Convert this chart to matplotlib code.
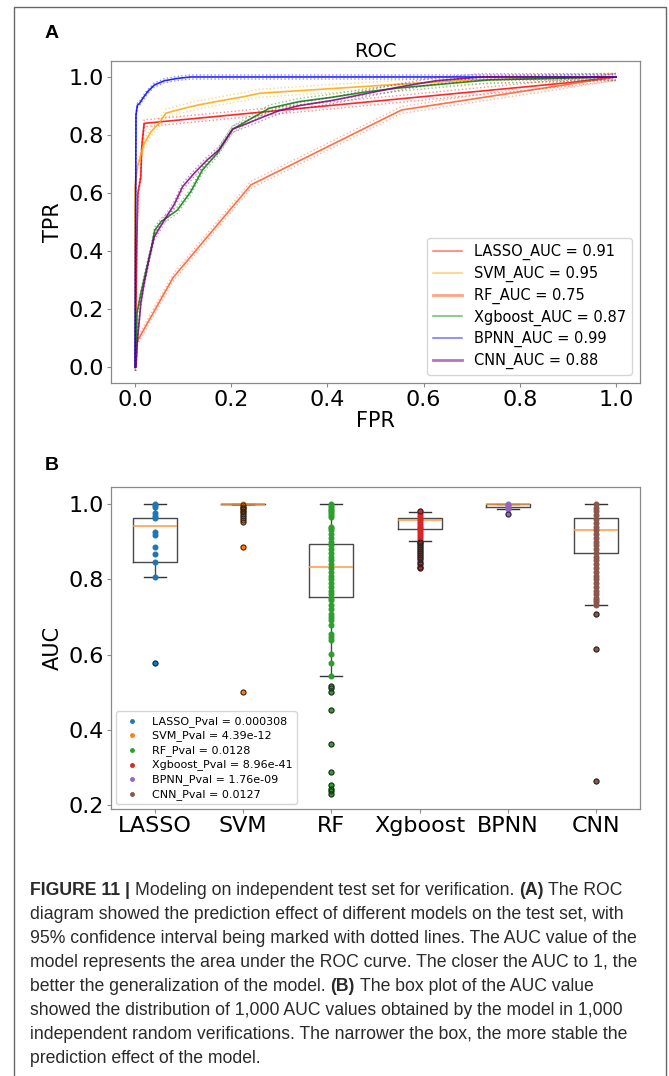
"""ROC curves and bootstrap AUC box plot on the independent test set."""

import matplotlib
matplotlib.use('Agg')
import numpy as _np
import matplotlib.pyplot as _plt
from matplotlib.lines import Line2D as _Line2D
from matplotlib.patches import Rectangle as _Rectangle

_W, _H = 669, 1076  # [px]

# ---- panel A: ROC curves (fpr, tpr) ----
models = ['LASSO', 'SVM', 'RF', 'Xgboost', 'BPNN', 'CNN']
roc_colors = ['red', 'orange', '#ff5722', 'green', 'blue', 'purple']
auc_values = [0.91, 0.95, 0.75, 0.87, 0.99, 0.88]

lasso_fpr = [0.0, 0.004, 0.006, 0.012, 0.014, 0.019, 0.9, 1.0]
lasso_tpr = [0.0, 0.45, 0.6, 0.656, 0.76, 0.84, 0.98, 1.0]

svm_fpr = [0.0, 0.0, 0.005, 0.019, 0.033, 0.05, 0.064, 0.088, 0.13,
           0.178, 0.226, 0.26, 0.41, 0.55, 0.7, 1.0]
svm_tpr = [0.0, 0.62, 0.69, 0.771, 0.811, 0.84, 0.875, 0.886, 0.903,
           0.918, 0.932, 0.944, 0.96, 0.975, 0.99, 1.0]

rf_fpr = [0.0, 0.005, 0.079, 0.241, 0.554, 1.0]
rf_tpr = [0.075, 0.09, 0.308, 0.628, 0.886, 1.0]

xgb_fpr = [0.0, 0.002, 0.004, 0.012, 0.023, 0.033, 0.041, 0.054, 0.088,
           0.116, 0.14, 0.171, 0.203, 0.245, 0.279, 0.341, 0.41, 0.479,
           0.548, 0.738, 1.0]
xgb_tpr = [0.0, 0.0, 0.185, 0.254, 0.334, 0.403, 0.472, 0.501, 0.541,
           0.605, 0.679, 0.737, 0.82, 0.86, 0.892, 0.915, 0.93, 0.948,
           0.962, 0.99, 1.0]

bpnn_fpr = [0.0, 0.002, 0.005, 0.009, 0.016, 0.026, 0.04, 0.061, 0.088,
            0.116, 1.0]
bpnn_tpr = [0.0, 0.87, 0.903, 0.908, 0.926, 0.949, 0.972, 0.987, 0.995,
            1.0, 1.0]

cnn_fpr = [0.0, 0.002, 0.005, 0.012, 0.019, 0.03, 0.04, 0.061, 0.081,
           0.099, 0.123, 0.15, 0.174, 0.203, 0.238, 0.272, 0.3, 0.341,
           0.41, 0.479, 0.548, 0.626, 0.72, 1.0]
cnn_tpr = [0.0, 0.0, 0.093, 0.22, 0.289, 0.38, 0.449, 0.507, 0.559,
           0.622, 0.668, 0.714, 0.748, 0.82, 0.843, 0.866, 0.884, 0.901,
           0.919, 0.942, 0.965, 0.987, 1.0, 1.0]

# half width of the 95% CI band (dotted lines) per model, in TPR units
ci_halfwidth = [0.012, 0.014, 0.012, 0.011, 0.007, 0.011]

# ---- panel B: AUC over 1,000 random verifications ----
box_labels = ['LASSO', 'SVM', 'RF', 'Xgboost', 'BPNN', 'CNN']
pval_labels = ['LASSO_Pval = 0.000308', 'SVM_Pval = 4.39e-12',
               'RF_Pval = 0.0128', 'Xgboost_Pval = 8.96e-41',
               'BPNN_Pval = 1.76e-09', 'CNN_Pval = 0.0127']
box_med = [0.942, 1.0, 0.832, 0.957, 1.0, 0.930]
box_q1 = [0.847, 1.0, 0.753, 0.934, 0.991, 0.869]
box_q3 = [0.962, 1.0, 0.893, 0.962, 1.0, 0.964]
box_whislo = [0.807, 1.0, 0.543, 0.901, 0.986, 0.731]
box_whishi = [1.0, 1.0, 1.0, 0.978, 1.0, 1.0]

lasso_auc = [1.0, 0.997, 0.993, 0.975, 0.968, 0.962, 0.926, 0.918, 0.887,
             0.867, 0.847, 0.807, 0.578]
svm_auc = [1.0, 0.997, 0.993, 0.99, 0.986, 0.982, 0.978, 0.973, 0.968,
           0.962, 0.957, 0.953, 0.885, 0.5]
rf_auc = [1.0, 0.995, 0.99, 0.985, 0.98, 0.975, 0.97, 0.966,
          0.94, 0.935, 0.93, 0.92, 0.91, 0.90, 0.89, 0.88, 0.87, 0.86,
          0.85, 0.84, 0.83, 0.82, 0.81, 0.80, 0.79, 0.78, 0.77, 0.76,
          0.75, 0.745, 0.731, 0.722, 0.709, 0.70, 0.691, 0.678, 0.656,
          0.647, 0.638, 0.601, 0.578, 0.543, 0.516, 0.51, 0.501, 0.454,
          0.362, 0.288, 0.255, 0.244, 0.238, 0.231]
xgb_auc = [0.98, 0.975, 0.97, 0.965, 0.96, 0.955, 0.95, 0.945, 0.94,
           0.935, 0.93, 0.925, 0.92, 0.915, 0.91, 0.905, 0.90, 0.895,
           0.89, 0.885, 0.88, 0.875, 0.87, 0.865, 0.86, 0.855, 0.845,
           0.84, 0.833, 0.829]
bpnn_auc = [1.0, 0.997, 0.993, 0.99, 0.986, 0.973]
cnn_auc = [1.0, 0.99, 0.98, 0.97, 0.96, 0.95, 0.94, 0.93, 0.92, 0.91,
           0.90, 0.89, 0.88, 0.87, 0.86, 0.85, 0.84, 0.83, 0.82, 0.81,
           0.80, 0.79, 0.78, 0.77, 0.76, 0.75, 0.745, 0.74, 0.731, 0.708,
           0.614, 0.265]

caption_lines = [
    [('FIGURE 11 |', True),
     ('Modeling on independent test set for verification.', False),
     ('(A)', True), ('The ROC', False)],
    [('diagram showed the prediction effect of different models on the '
      'test set, with', False)],
    [('95% confidence interval being marked with dotted lines. The AUC '
      'value of the', False)],
    [('model represents the area under the ROC curve. The closer the AUC '
      'to 1, the', False)],
    [('better the generalization of the model.', False), ('(B)', True),
     ('The box plot of the AUC value', False)],
    [('showed the distribution of 1,000 AUC values obtained by the model '
      'in 1,000', False)],
    [('independent random verifications. The narrower the box, the more '
      'stable the', False)],
    [('prediction effect of the model.', False)],
]
caption_top = 889    # [px], centre of first caption line
caption_step = 24    # [px]


def _fig_rect(left, top, right, bottom):
    """Convert pixel box into figure fraction rect."""
    return [left/_W, 1 - bottom/_H, (right-left)/_W, (bottom-top)/_H]


def _style_axes(ax):
    for sp in ax.spines.values():
        sp.set_color('#8a8a8a')
        sp.set_linewidth(0.9)
    ax.tick_params(labelsize=16, length=3, pad=2, color='#8a8a8a')


def plot_roc(ax):
    """Plot ROC curves with dotted CI lines."""
    fprs = [lasso_fpr, svm_fpr, rf_fpr, xgb_fpr, bpnn_fpr, cnn_fpr]
    tprs = [lasso_tpr, svm_tpr, rf_tpr, xgb_tpr, bpnn_tpr, cnn_tpr]
    handles = []
    for i, name in enumerate(models):
        fpr = _np.array(fprs[i])
        tpr = _np.array(tprs[i])
        c = roc_colors[i]
        w = ci_halfwidth[i]
        ax.plot(fpr, tpr + w, ':', color=c, lw=1.0, alpha=0.45)
        ax.plot(fpr, tpr - w, ':', color=c, lw=1.0, alpha=0.45)
        ax.plot(fpr, tpr, '-', color=c, lw=1.2, alpha=0.85)
        lw = 2.0 if name in ('RF', 'CNN') else 1.1
        handles.append(_Line2D([], [], color=c, lw=lw, alpha=0.55,
                               label='{}_AUC = {:.2f}'.format(name,
                                                              auc_values[i])))
    ax.set_xlim(-0.05, 1.05)
    ax.set_ylim(-0.055, 1.055)
    ax.set_xticks([0.0, 0.2, 0.4, 0.6, 0.8, 1.0])
    ax.set_yticks([0.0, 0.2, 0.4, 0.6, 0.8, 1.0])
    ax.set_xlabel('FPR', fontsize=15, labelpad=1)
    ax.set_ylabel('TPR', fontsize=15, labelpad=4)
    ax.set_title('ROC', fontsize=14, pad=3)
    ax.legend(handles=handles, loc='lower right', fontsize=10.5,
              labelspacing=0.38, borderaxespad=0.55, handlelength=2.0)
    _style_axes(ax)


def plot_auc_boxes(ax):
    """Box plot of AUC values with every sample drawn on top."""
    samples = [lasso_auc, svm_auc, rf_auc, xgb_auc, bpnn_auc, cnn_auc]
    stats = []
    for i in range(len(box_labels)):
        lo, hi = box_whislo[i], box_whishi[i]
        stats.append(dict(med=box_med[i], q1=box_q1[i], q3=box_q3[i],
                          whislo=lo, whishi=hi, label=box_labels[i],
                          fliers=[v for v in samples[i]
                                  if v < lo or v > hi]))
    ax.bxp(stats, positions=range(1, 7), widths=0.5, showfliers=True,
           boxprops=dict(color='#4a4a4a', lw=1.0),
           whiskerprops=dict(color='#4a4a4a', lw=1.0),
           capprops=dict(color='#333333', lw=1.0),
           medianprops=dict(color='#ff9a40', lw=1.1),
           flierprops=dict(marker='o', markerfacecolor='none',
                           markeredgecolor='#222222', markersize=3.6,
                           markeredgewidth=0.7, zorder=4))
    for i, vals in enumerate(samples):
        ax.scatter(_np.full(len(vals), i + 1), vals, s=11,
                   color='C{}'.format(i), zorder=3, label=pval_labels[i])
    ax.set_xlim(0.5, 6.5)
    ax.set_ylim(0.19, 1.045)
    ax.set_yticks([0.2, 0.4, 0.6, 0.8, 1.0])
    ax.set_ylabel('AUC', fontsize=15, labelpad=4)
    ax.legend(loc='lower left', fontsize=8, labelspacing=0.33,
              borderaxespad=0.45, markerscale=0.75, scatterpoints=1)
    _style_axes(ax)


def add_caption(fig):
    """Write the figure caption line by line, with bold runs."""
    space = 3.5  # [pt]
    for k, runs in enumerate(caption_lines):
        yc = caption_top + k*caption_step
        prev = None
        for txt, bold in runs:
            kw = dict(fontsize=12.7, family='Liberation Sans',
                      color='#2a2a2a',
                      fontweight='bold' if bold else 'normal')
            if prev is None:
                prev = fig.text(30/_W, 1 - (yc + 6)/_H, txt, ha='left',
                                va='baseline', **kw)
            else:
                ann = _plt.Annotation(txt, xy=(1, 0), xycoords=prev,
                                      xytext=(space, 0),
                                      textcoords='offset points',
                                      ha='left', va='bottom', **kw)
                fig.add_artist(ann)
                prev = ann


def main():
    """Build and save figure."""
    fig = _plt.figure(figsize=(_W/100, _H/100), dpi=100)
    fig.patch.set_facecolor('white')

    ax_roc = fig.add_axes(_fig_rect(111, 61, 640, 383))
    plot_roc(ax_roc)
    ax_box = fig.add_axes(_fig_rect(111, 487, 640, 809))
    plot_auc_boxes(ax_box)

    # outer frame, open at the bottom edge of the page
    fig.add_artist(_Rectangle((14/_W, -0.01), (666 - 14)/_W, 1.01 - 7/_H,
                              transform=fig.transFigure, fill=False,
                              ec='#666666', lw=1.0, clip_on=False))
    fig.text(45/_W, 1 - 33/_H, 'A', fontsize=14, fontweight='bold',
             family='Liberation Sans', ha='left', va='center')
    fig.text(45/_W, 1 - 465/_H, 'B', fontsize=14, fontweight='bold',
             family='Liberation Sans', ha='left', va='center')
    add_caption(fig)

    fig.savefig('out.png', dpi=100)


if __name__ == '__main__':
    main()
